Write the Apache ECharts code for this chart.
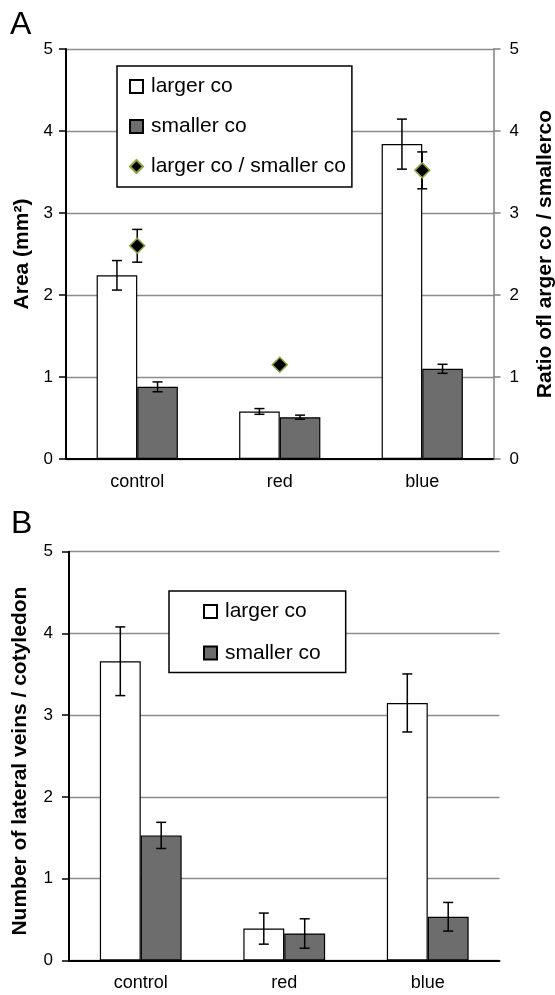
<!DOCTYPE html>
<html>
<head>
<meta charset="utf-8">
<script src="https://cdn.jsdelivr.net/npm/echarts@6/dist/echarts.min.js"></script>
<style>
  html, body { margin: 0; padding: 0; background: #fff; }
  #main { width: 555px; height: 995px; }
</style>
</head>
<body>
<div id="main"></div>
<script>
var categories = ['control', 'red', 'blue']

// A: cotyledon area (mm2) and ratio
var areaLarger = [2.24, 0.58, 3.84]
var areaLargerErr = [0.18, 0.035, 0.305]
var areaSmaller = [0.88, 0.51, 1.10]
var areaSmallerErr = [0.06, 0.025, 0.055]
var ratio = [2.60, 1.15, 3.52]
var ratioErr = [0.20, 0, 0.225]

// B: number of lateral veins per cotyledon
var veinsLarger = [3.66, 0.39, 3.15]
var veinsLargerErr = [0.42, 0.19, 0.355]
var veinsSmaller = [1.53, 0.33, 0.535]
var veinsSmallerErr = [0.16, 0.18, 0.175]

var FONT = 'Liberation Sans, Arial, Helvetica, sans-serif'
var GAP = 0.43
var WHITE = { color: '#fff', borderColor: '#000', borderWidth: 1.2 }
var GREY = { color: '#6d6d6d', borderColor: '#000', borderWidth: 1.2 }

// error bar data: [category index, value, error, side]
function errData(vals, errs, side) {
  return vals.map(function (v, i) { return [i, v, errs[i], side] })
}

function errRender(params, api) {
  var i = api.value(0)
  var v = api.value(1)
  var e = api.value(2)
  var side = api.value(3)
  var band = api.size([1, 0])[0]
  var barW = band * (1 - GAP) / 2
  var x = api.coord([i, v])[0] + side * barW / 2
  var top = api.coord([i, v + e])[1]
  var bot = api.coord([i, v - e])[1]
  var st = { stroke: '#000', lineWidth: 1.5 }
  return {
    type: 'group',
    children: [
      { type: 'line', shape: { x1: x, y1: top, x2: x, y2: bot }, style: st },
      { type: 'line', shape: { x1: x - 5, y1: top, x2: x + 5, y2: top }, style: st },
      { type: 'line', shape: { x1: x - 5, y1: bot, x2: x + 5, y2: bot }, style: st }
    ]
  }
}

function xAxisOf(gridIndex) {
  return {
    type: 'category',
    gridIndex: gridIndex,
    data: categories,
    axisLine: { lineStyle: { color: '#000', width: 2 } },
    axisTick: { length: 8, lineStyle: { color: '#000', width: 1.5 } },
    axisLabel: { fontSize: 18, color: '#000', margin: 14, fontFamily: FONT }
  }
}

function yAxisOf(gridIndex, name, gap, margin, namePad) {
  return {
    type: 'value',
    gridIndex: gridIndex,
    min: 0,
    max: 5,
    interval: 1,
    name: name,
    nameLocation: 'middle',
    nameGap: gap,
    nameRotate: 90,
    nameTextStyle: { fontSize: 21, fontWeight: 'bold', color: '#000', fontFamily: FONT, padding: namePad },
    axisLine: { show: true, lineStyle: { color: '#000', width: 2 } },
    axisTick: { show: true, length: 7, lineStyle: { color: '#000', width: 1.5 } },
    axisLabel: { fontSize: 17, color: '#000', margin: margin, fontFamily: FONT },
    splitLine: { show: true, lineStyle: { color: '#8c8c8c', width: 1.3 } }
  }
}

var legendText = { fontSize: 21, lineHeight: 21, color: '#000', fontFamily: FONT, padding: [0, 0, 0, 3] }

var option = {
  animation: false,
  backgroundColor: '#fff',
  textStyle: { fontFamily: FONT },
  graphic: [
    { type: 'text', left: 10, top: 9, style: { text: 'A', fontSize: 32, fill: '#000', fontFamily: FONT } },
    { type: 'text', left: 11, top: 508, style: { text: 'B', fontSize: 32, fill: '#000', fontFamily: FONT } }
  ],
  grid: [
    { left: 66, right: 61.5, top: 49, height: 410, outerBoundsMode: 'none', containLabel: false },
    { left: 69, right: 55.5, top: 551.7, height: 408.8, outerBoundsMode: 'none', containLabel: false }
  ],
  legend: [
    {
      data: [
        { name: 'larger co', icon: 'rect' },
        { name: 'smaller co', icon: 'rect' },
        { name: 'larger co / smaller co', icon: 'diamond' }
      ],
      orient: 'vertical',
      left: 117,
      top: 66,
      backgroundColor: '#fff',
      borderColor: '#000',
      borderWidth: 1.5,
      borderRadius: 0,
      padding: [10, 6, 10, 12],
      itemWidth: 13,
      itemHeight: 13,
      itemGap: 19,
      textStyle: legendText
    },
    {
      data: [
        { name: 'larger co', icon: 'rect' },
        { name: 'smaller co', icon: 'rect' }
      ],
      orient: 'vertical',
      left: 169,
      top: 591,
      backgroundColor: '#fff',
      borderColor: '#000',
      borderWidth: 1.5,
      borderRadius: 0,
      padding: [10, 25, 9, 34],
      itemWidth: 13,
      itemHeight: 13,
      itemGap: 20.5,
      textStyle: legendText
    }
  ],
  xAxis: [xAxisOf(0), xAxisOf(1)],
  yAxis: [
    yAxisOf(0, 'Area (mm²)', 31, 13, 0),
    {
      type: 'value',
      gridIndex: 0,
      position: 'right',
      min: 0,
      max: 5,
      interval: 1,
      name: 'Ratio ofl arger co / smallerco',
      nameLocation: 'middle',
      nameGap: 41,
      nameRotate: 90,
      nameTextStyle: { fontSize: 21, fontWeight: 'bold', color: '#000', fontFamily: FONT },
      axisLine: { show: true, lineStyle: { color: '#808080', width: 1.5 } },
      axisTick: { show: true, length: 7, lineStyle: { color: '#808080', width: 1.5 } },
      axisLabel: { fontSize: 17, color: '#000', margin: 16, fontFamily: FONT },
      splitLine: { show: false }
    },
    yAxisOf(1, 'Number of lateral veins / cotyledon', 38, 16, [0, 10, 0, 0])
  ],
  series: [
    {
      name: 'larger co', type: 'bar', xAxisIndex: 0, yAxisIndex: 0,
      data: areaLarger, itemStyle: WHITE, barGap: '0%', barCategoryGap: '43%'
    },
    {
      name: 'smaller co', type: 'bar', xAxisIndex: 0, yAxisIndex: 0,
      data: areaSmaller, itemStyle: GREY, barGap: '0%', barCategoryGap: '43%'
    },
    {
      type: 'custom', xAxisIndex: 0, yAxisIndex: 0, z: 5,
      renderItem: errRender, data: errData(areaLarger, areaLargerErr, -1)
    },
    {
      type: 'custom', xAxisIndex: 0, yAxisIndex: 0, z: 5,
      renderItem: errRender, data: errData(areaSmaller, areaSmallerErr, 1)
    },
    {
      type: 'custom', xAxisIndex: 0, yAxisIndex: 1, z: 5,
      renderItem: errRender, data: errData(ratio, ratioErr, 0)
    },
    {
      name: 'larger co / smaller co', type: 'scatter', xAxisIndex: 0, yAxisIndex: 1, z: 10,
      data: ratio, symbol: 'diamond', symbolSize: 15,
      itemStyle: { color: '#000', borderColor: '#8ba640', borderWidth: 1.5, opacity: 1 }
    },
    {
      name: 'larger co', type: 'bar', xAxisIndex: 1, yAxisIndex: 2,
      data: veinsLarger, itemStyle: WHITE, barGap: '0%', barCategoryGap: '43%'
    },
    {
      name: 'smaller co', type: 'bar', xAxisIndex: 1, yAxisIndex: 2,
      data: veinsSmaller, itemStyle: GREY, barGap: '0%', barCategoryGap: '43%'
    },
    {
      type: 'custom', xAxisIndex: 1, yAxisIndex: 2, z: 5,
      renderItem: errRender, data: errData(veinsLarger, veinsLargerErr, -1)
    },
    {
      type: 'custom', xAxisIndex: 1, yAxisIndex: 2, z: 5,
      renderItem: errRender, data: errData(veinsSmaller, veinsSmallerErr, 1)
    }
  ]
}

var chart = echarts.init(document.getElementById('main'), null, { renderer: 'canvas' })
chart.setOption(option)
</script>
</body>
</html>
